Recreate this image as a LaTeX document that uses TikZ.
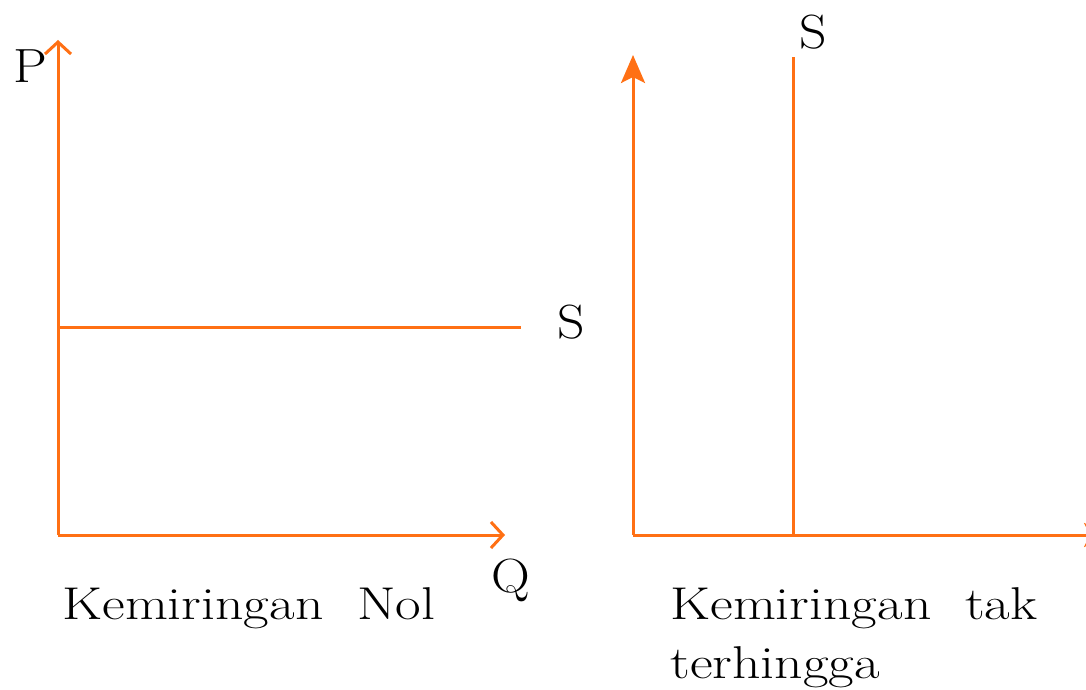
\documentclass[tikz,border=0pt]{standalone}
\usepackage{graphicx}
\usetikzlibrary{arrows.meta}
\definecolor{axisorange}{RGB}{255,112,20}
\newcommand{\widetext}[1]{\scalebox{1.21}[1]{#1}}
\newcommand{\wideletter}[1]{\scalebox{1.12}[1]{#1}}
\begin{document}
\begin{tikzpicture}[x=0.5pt,y=-0.5pt,
  axisline/.style={draw=axisorange,line width=1.5pt},
  openhead/.style={-{Straight Barb[length=6pt,width=13pt,line width=1.5pt]}},
  fillhead/.style={-{Stealth[length=14pt,width=12pt,inset=3pt]}},
  lbl/.style={font=\fontsize{24}{28}\selectfont,inner sep=0pt},
  captext/.style={font=\fontsize{23}{29}\selectfont,inner sep=0pt,anchor=west}]
\useasboundingbox (0,0) rectangle (1086,690);
% left graph
\coordinate (lo) at (58,535);
\coordinate (ltop) at (58,40);
\coordinate (lright) at (505,535);
\coordinate (sl) at (58,327);
\coordinate (sr) at (521,327);
\draw[axisline,openhead] (lo) -- (ltop);
\draw[axisline,openhead] (lo) -- (lright);
\draw[axisline] (sl) -- (sr);
\node[lbl] (P) at (30,66) {\wideletter{P}};
\node[lbl] (Q) at (511,580) {\wideletter{Q}};
\node[lbl] (S1) at (571,322) {\wideletter{S}};
\node[captext] (c1) at (62,608) {\widetext{Kemiringan\ \ Nol}};
% right graph
\coordinate (ro) at (633,535);
\coordinate (rtop) at (633,55);
\coordinate (rright) at (1112,535);
\coordinate (vb) at (793,535);
\coordinate (vt) at (793,57);
\draw[axisline,fillhead] (ro) -- (rtop);
\draw[axisline,fillhead] (ro) -- (rright);
\draw[axisline] (vb) -- (vt);
\node[lbl] (S2) at (813,32) {\wideletter{S}};
\node[captext] (c2) at (670,608) {\widetext{Kemiringan\ \ tak}};
\node[captext] (c3) at (670,667) {\widetext{terhingga}};
\end{tikzpicture}
\end{document}
